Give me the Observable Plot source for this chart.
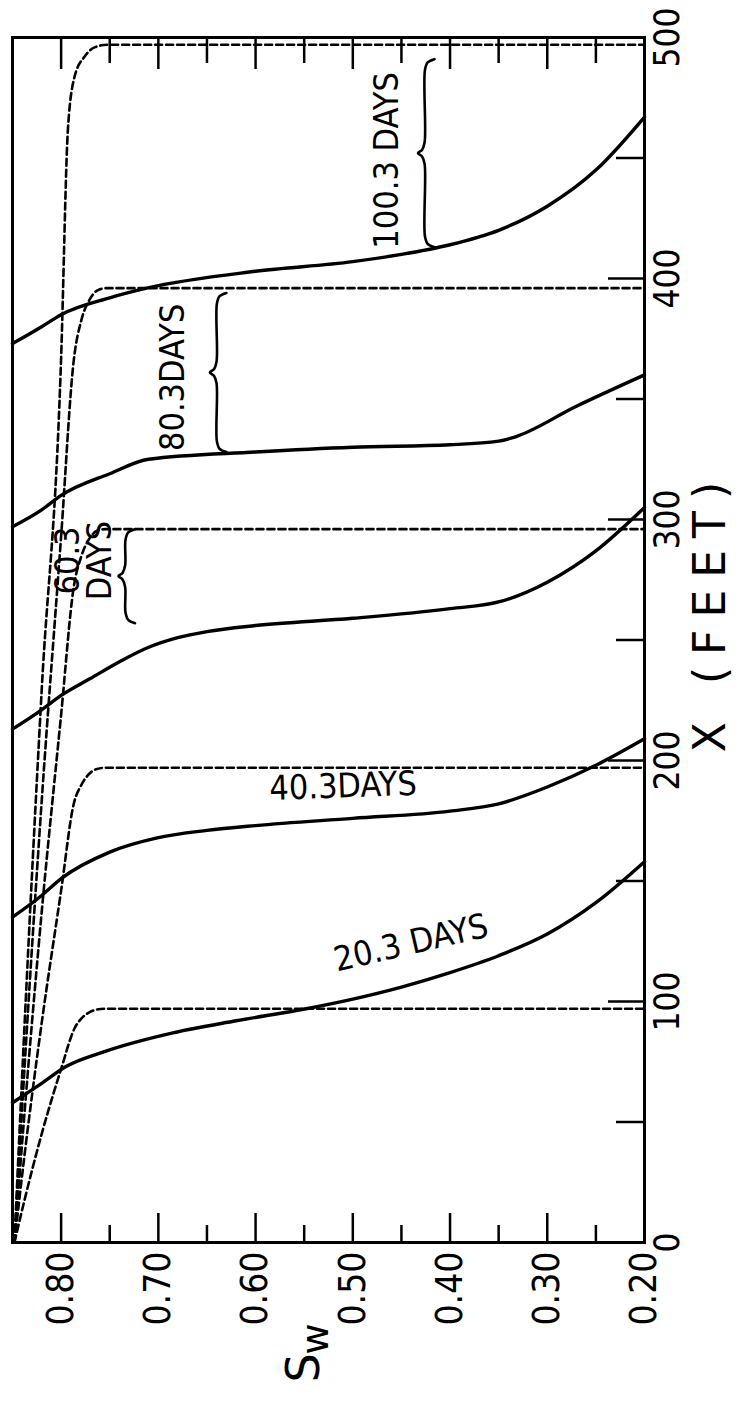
<!DOCTYPE html>
<html><head><meta charset="utf-8">
<script src="https://cdn.jsdelivr.net/npm/d3@7"></script>
<script src="https://cdn.jsdelivr.net/npm/@observablehq/plot@0.6"></script>
<style>
html,body{margin:0;padding:0;background:#fff;}
#wrap{position:relative;width:739px;height:1406px;overflow:hidden;background:#fff;}
#chart{position:absolute;left:0;top:0;width:1406px;height:739px;transform-origin:0 0;transform:translate(0px,1406px) rotate(-90deg);}
#chart svg{max-width:none !important;}
</style></head>
<body><div id="wrap"><div id="chart"></div></div>
<script>
// ---- data (original orientation: X in feet horizontal, Sw vertical) ----
const xTickLabels = [0, 100, 200, 300, 400, 500];
const xMinorTicks = [50, 150, 250, 350, 450];
const xMajorTicks = [100, 200, 300, 400];
const swTickLabels = [0.2, 0.3, 0.4, 0.5, 0.6, 0.7, 0.8];
const swMinorTicks = [0.25, 0.35, 0.45, 0.55, 0.65, 0.75];
const days = ["20.3", "40.3", "60.3", "80.3", "100.3"];

// numerical (solid) curves: [Sw, X]
const solid20 = [[0.85,58],[0.82,66],[0.795,73],[0.757,79],[0.685,87],[0.62,92],[0.548,97],[0.50,101],[0.45,106],[0.40,112],[0.35,119],[0.30,128],[0.25,141],[0.20,158]];
const solid40 = [[0.85,135],[0.82,144],[0.80,151],[0.75,162],[0.70,168],[0.65,171],[0.60,173],[0.50,176],[0.40,179],[0.35,182],[0.30,189],[0.25,198],[0.20,209]];
const solid60 = [[0.85,213],[0.82,221],[0.80,227],[0.77,234],[0.74,241],[0.71,247],[0.68,251],[0.65,253.5],[0.60,256],[0.50,259],[0.40,263],[0.348,266],[0.30,274],[0.25,287],[0.20,305]];
const solid80 = [[0.85,297],[0.82,304],[0.80,310],[0.75,319],[0.71,325],[0.60,328],[0.50,330],[0.40,331],[0.35,332.5],[0.335,334],[0.27,347],[0.20,360]];
const solid100 = [[0.85,373],[0.82,380],[0.80,385],[0.75,392],[0.712,396],[0.60,403],[0.50,407],[0.45,410],[0.40,414],[0.35,420],[0.30,430],[0.25,445],[0.20,467]];

// analytic (dashed) curves: [Sw, X]
const dashed20 = [[0.848,0],[0.838,17],[0.820,45],[0.800,72],[0.786,89],[0.779,93],[0.771,95.5],[0.763,96.7],[0.754,97],[0.20,97]];
const dashed40 = [[0.848,0],[0.838,35],[0.820,91],[0.800,146],[0.787,182],[0.779,190],[0.771,194.5],[0.763,196.5],[0.754,197],[0.20,197]];
const dashed60 = [[0.848,0],[0.838,52],[0.820,137],[0.800,219],[0.787,272],[0.779,285],[0.771,292],[0.763,295.3],[0.754,296],[0.20,296]];
const dashed80 = [[0.848,0],[0.838,70],[0.820,183],[0.800,293],[0.787,366],[0.779,383],[0.771,391],[0.763,395],[0.754,396],[0.20,396]];
const dashed100 = [[0.848,0],[0.838,87],[0.820,229],[0.800,367],[0.793,462],[0.786,484],[0.776,492],[0.765,496],[0.752,497],[0.20,497]];

// curve labels
const labelTexts = ["20.3 DAYS", "40.3DAYS", "60.3\nDAYS", "80.3DAYS", "100.3 DAYS"];
const labelX = [124, 189, 283, 359, 449];
const labelSw = [0.44, 0.51, 0.776, 0.684, 0.464];
const labelAngle = [77, 88, 0, 0, 0];

// braces (span between numerical and analytic fronts)
const braceFrom = [413, 328, 257];
const braceTo = [491, 394, 296];
const braceSw = [0.426, 0.640, 0.734];

// ---- build tables ----
const solids = [solid20, solid40, solid60, solid80, solid100];
const dashes = [dashed20, dashed40, dashed60, dashed80, dashed100];
const solidRows = solids.flatMap((pts, i) => pts.map(([sw, x]) => ({d: days[i], sw, x})));
const dashRows = dashes.flatMap((pts, i) => pts.map(([sw, x]) => ({d: days[i], sw, x})));
const labelRows = labelTexts.map((t, i) => ({t, x: labelX[i], sw: labelSw[i], r: labelAngle[i]}));

function bracePoints(a, b, s, k) {
  const m = (a + b) / 2, r = 4.5, d1 = 0.010, d2 = 0.007;
  return [[a, s - d1], [a + 0.3 * r, s - 0.3 * d1], [a + r, s - 0.02 * d1], [m - r, s + 0.02 * d2],
          [m - 0.3 * r, s + 0.4 * d2], [m, s + d2], [m + 0.3 * r, s + 0.4 * d2], [m + r, s + 0.02 * d2],
          [b - r, s - 0.02 * d1], [b - 0.3 * r, s - 0.3 * d1], [b, s - d1]].map(([x, sw]) => ({k, x, sw}));
}
const braceRows = braceFrom.flatMap((a, i) => bracePoints(a, braceTo[i], braceSw[i], i));

const FONT = "'DejaVu Sans Condensed','DejaVu Sans',sans-serif";
const WIDE = "'DejaVu Sans','Liberation Sans',sans-serif";

const chart = Plot.plot({
  width: 1406,
  height: 739,
  marginLeft: 163,
  marginRight: 38,
  marginTop: 12,
  marginBottom: 95,
  style: {fontFamily: FONT, fontSize: "34px", background: "white", color: "black", overflow: "visible", maxWidth: "none"},
  x: {domain: [0, 500]},
  y: {domain: [0.2, 0.85]},
  marks: [
    // inward ticks
    Plot.axisY({anchor: "left", ticks: swTickLabels, tickSize: -30, tickFormat: () => "", strokeWidth: 2.5, label: null}),
    Plot.axisY({anchor: "left", ticks: swMinorTicks, tickSize: -18, tickFormat: () => "", strokeWidth: 2.5, label: null}),
    Plot.axisY({anchor: "right", ticks: swTickLabels, tickSize: -32, tickFormat: () => "", strokeWidth: 2.5, label: null}),
    Plot.axisY({anchor: "right", ticks: swMinorTicks, tickSize: -26, tickFormat: () => "", strokeWidth: 2.5, label: null}),
    Plot.axisX({anchor: "bottom", ticks: xMajorTicks, tickSize: -36, tickFormat: () => "", strokeWidth: 2.5, label: null}),
    Plot.axisX({anchor: "bottom", ticks: xMinorTicks, tickSize: -28, tickFormat: () => "", strokeWidth: 2.5, label: null}),
    // tick labels
    Plot.axisY({anchor: "left", ticks: swTickLabels, tickSize: 0, tickPadding: 9, tickFormat: d3.format(".2f"), fontSize: 37, label: null}),
    Plot.axisX({anchor: "bottom", ticks: xTickLabels, tickSize: 0, tickPadding: 10, tickFormat: d3.format("d"), fontSize: 35, label: null}),
    // axis titles
    Plot.text(["X (FEET)"], {frameAnchor: "bottom", x: [262], dy: 66, fontSize: 44, fontFamily: WIDE, lineAnchor: "middle"}),
    Plot.text(["S"], {frameAnchor: "left", y: [0.55], dx: -140, fontSize: 46, fontFamily: WIDE, lineAnchor: "middle"}),
    Plot.text(["w"], {frameAnchor: "left", y: [0.55], dx: -112, dy: 12, fontSize: 38, fontFamily: WIDE, lineAnchor: "middle"}),
    // curves
    Plot.line(dashRows, {x: "x", y: "sw", z: "d", stroke: "black", strokeWidth: 2.6, strokeDasharray: "7,4", curve: "monotone-y"}),
    Plot.line(solidRows, {x: "x", y: "sw", z: "d", stroke: "black", strokeWidth: 3.4, curve: "monotone-y"}),
    // braces
    Plot.line(braceRows, {x: "x", y: "sw", z: "k", stroke: "black", strokeWidth: 2.6, curve: "catmull-rom"}),
    // labels
    Plot.text(labelRows, {x: "x", y: "sw", text: "t", rotate: "r", fontSize: 34, fontFamily: FONT, lineHeight: 0.95, lineAnchor: "middle", fill: "black"}),
    Plot.frame({stroke: "black", strokeWidth: 3})
  ]
});
d3.select(chart).selectAll("text").filter(function () { return this.textContent === "X (FEET)"; })
  .style("letter-spacing", "12px");
document.getElementById("chart").appendChild(chart);
</script>
</body></html>
